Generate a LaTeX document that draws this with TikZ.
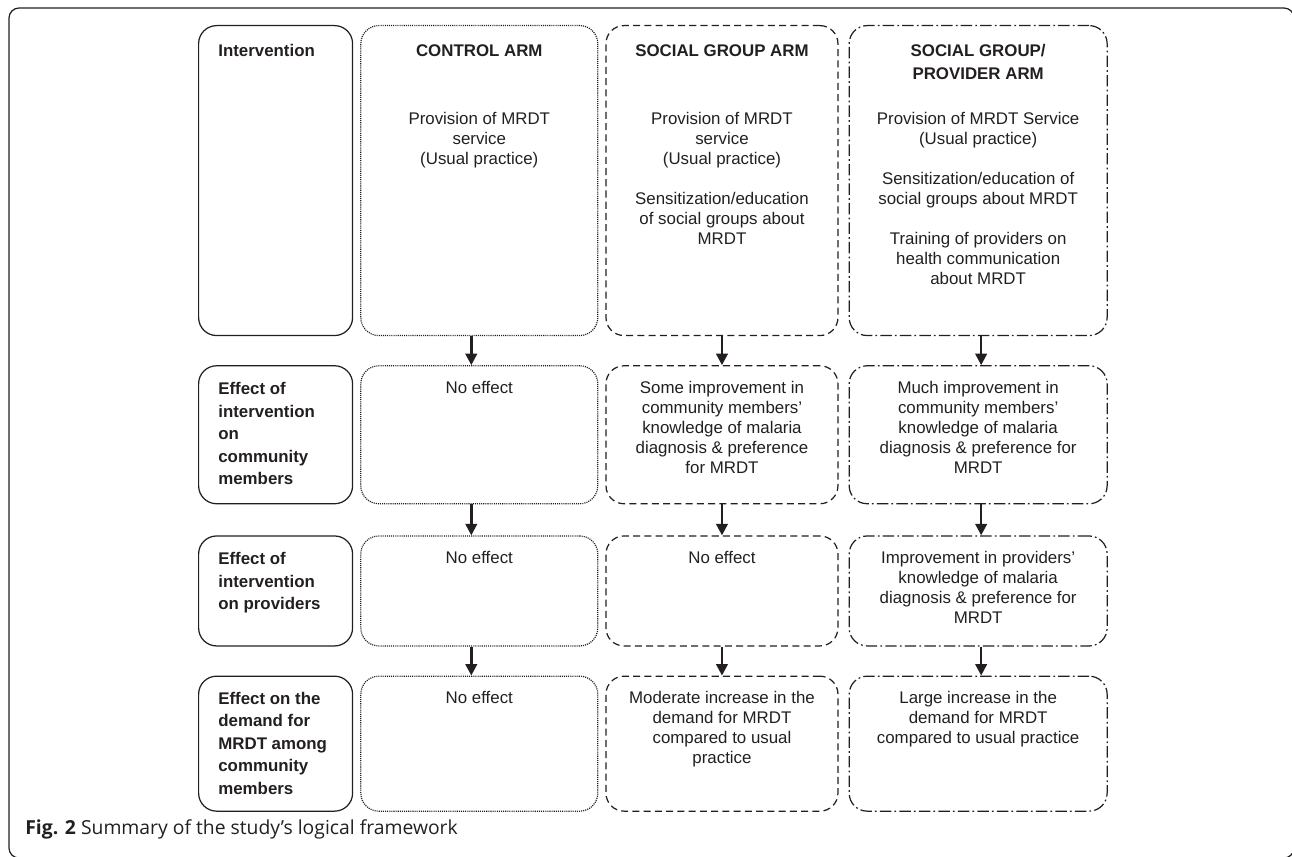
\documentclass[tikz,border=0pt]{standalone}
\usepackage{fontspec}
\setmainfont{Liberation Sans}
\newfontfamily\lfcapfont{Open Sans}
\usepackage{tikz}
\usetikzlibrary{positioning, arrows.meta}
\definecolor{lf-ink}{RGB}{35,31,32}
\newcommand\lfbody{\fontsize{9.6pt}{11.4pt}\selectfont}
\newcommand\lfhead{\fontsize{9.6pt}{12.8pt}\selectfont\bfseries}
\tikzset{
  lf@box/.style={
    rectangle, draw=lf-ink, rounded corners=0.36cm, line width=0.7pt,
    inner sep=0pt
  },
  lf@head/.style={lf@box, minimum width=3.08cm},
  lf@ctl/.style={lf@box, minimum width=4.74cm, dash pattern=on 0.6pt off 0.6pt},
  lf@soc/.style={lf@box, minimum width=4.64cm, dash pattern=on 4pt off 2.4pt},
  lf@prov/.style={lf@box, minimum width=5.16cm,
    dash pattern=on 6.5pt off 1.8pt on 1pt off 1.8pt},
  lf@txt/.style={inner sep=0pt, align=center, font=\lfbody, text=lf-ink},
  lf@ttl/.style={lf@txt, font=\lfhead},
  lf@lbl/.style={inner sep=0pt, align=left, font=\lfhead, text=lf-ink},
  lf@arr/.style={-{Triangle[width=6.5pt,length=6.5pt]}, line width=1.4pt, lf-ink},
  lf@cap/.style={inner sep=0pt, anchor=base west,
    font=\lfcapfont\fontsize{11pt}{13pt}\selectfont, text=lf-ink},
}

\begin{document}
\begin{tikzpicture}[x=0.02cm, y=0.02cm]
  \useasboundingbox (0,0) rectangle (1292,856);
  \draw[lf-ink, line width=0.7pt, rounded corners=0.2cm] (9,-2) rectangle (1294,848);
  % boxes
  \node[lf@head, minimum height=6.2cm, anchor=north west] (h1) at (198,831) {};
  \node[lf@ctl,  minimum height=6.2cm, right=0.14cm of h1] (c1) {};
  \node[lf@soc,  minimum height=6.2cm, right=0.14cm of c1] (s1) {};
  \node[lf@prov, minimum height=6.2cm, right=0.2cm of s1] (p1) {};
  \node[lf@head, minimum height=2.76cm, below=0.58cm of h1] (h2) {};
  \node[lf@ctl,  minimum height=2.76cm, below=0.58cm of c1] (c2) {};
  \node[lf@soc,  minimum height=2.76cm, below=0.58cm of s1] (s2) {};
  \node[lf@prov, minimum height=2.76cm, below=0.58cm of p1] (p2) {};
  \node[lf@head, minimum height=2.2cm, below=0.62cm of h2] (h3) {};
  \node[lf@ctl,  minimum height=2.2cm, below=0.62cm of c2] (c3) {};
  \node[lf@soc,  minimum height=2.2cm, below=0.62cm of s2] (s3) {};
  \node[lf@prov, minimum height=2.2cm, below=0.62cm of p2] (p3) {};
  \node[lf@head, minimum height=2.7cm, below=0.58cm of h3] (h4) {};
  \node[lf@ctl,  minimum height=2.7cm, below=0.58cm of c3] (c4) {};
  \node[lf@soc,  minimum height=2.7cm, below=0.58cm of s3] (s4) {};
  \node[lf@prov, minimum height=2.7cm, below=0.58cm of p3] (p4) {};
  % texts
  \node[lf@lbl, below right=0.37cm and 0.4cm of h1.north west] (h1t) {Intervention};
  \node[lf@lbl, below right=0.34cm and 0.4cm of h2.north west] (h2t) {Effect of\\intervention\\on\\community\\members};
  \node[lf@lbl, below right=0.34cm and 0.4cm of h3.north west] (h3t) {Effect of\\intervention\\on providers};
  \node[lf@lbl, below right=0.32cm and 0.4cm of h4.north west] (h4t) {Effect on the\\demand for\\MRDT among\\community\\members};
  \node[lf@ttl, below=0.38cm of c1.north] (c1h) {CONTROL ARM};
  \node[lf@ttl, below=0.38cm of s1.north] (s1h) {SOCIAL GROUP ARM};
  \node[lf@ttl, below=0.38cm of p1.north] (p1h) {SOCIAL GROUP/\\PROVIDER ARM};
  \node[lf@txt, below=1.73cm of c1.north] (c1t) {Provision of MRDT\\service\\(Usual practice)};
  \node[lf@txt, below=1.73cm of s1.north] (s1t) {Provision of MRDT\\service\\(Usual practice)\\[0.4cm]Sensitization/education\\of social groups about\\MRDT};
  \node[lf@txt, below=1.73cm of p1.north] (p1t) {Provision of MRDT Service\\(Usual practice)\\[0.4cm]Sensitization/education of\\social groups about MRDT\\[0.4cm]Training of providers on\\health communication\\about MRDT};
  \node[lf@txt, below=0.31cm of c2.north] (c2t) {No effect};
  \node[lf@txt, below=0.31cm of s2.north] (s2t) {Some improvement in\\community members’\\knowledge of malaria\\diagnosis \& preference\\for MRDT};
  \node[lf@txt, below=0.31cm of p2.north] (p2t) {Much improvement in\\community members’\\knowledge of malaria\\diagnosis \& preference for\\MRDT};
  \node[lf@txt, below=0.31cm of c3.north] (c3t) {No effect};
  \node[lf@txt, below=0.31cm of s3.north] (s3t) {No effect};
  \node[lf@txt, below=0.31cm of p3.north] (p3t) {Improvement in providers’\\knowledge of malaria\\diagnosis \& preference for\\MRDT};
  \node[lf@txt, below=0.31cm of c4.north] (c4t) {No effect};
  \node[lf@txt, below=0.31cm of s4.north] (s4t) {Moderate increase in the\\demand for MRDT\\compared to usual\\practice};
  \node[lf@txt, below=0.31cm of p4.north] (p4t) {Large increase in the\\demand for MRDT\\compared to usual practice};
  % arrows
  \draw[lf@arr] ([xshift=-0.16cm]c1.south) -- ([xshift=-0.16cm]c2.north);
  \draw[lf@arr] ([xshift=-0.16cm]c2.south) -- ([xshift=-0.16cm]c3.north);
  \draw[lf@arr] ([xshift=-0.16cm]c3.south) -- ([xshift=-0.16cm]c4.north);
  \draw[lf@arr] (s1) -- (s2);
  \draw[lf@arr] (s2) -- (s3);
  \draw[lf@arr] (s3) -- (s4);
  \draw[lf@arr] ([xshift=0.06cm]p1.south) -- ([xshift=0.06cm]p2.north);
  \draw[lf@arr] ([xshift=0.06cm]p2.south) -- ([xshift=0.06cm]p3.north);
  \draw[lf@arr] ([xshift=0.06cm]p3.south) -- ([xshift=0.06cm]p4.north);
  \node[lf@cap] (cap) at (25,22) {\textbf{Fig. 2} Summary of the study’s logical framework};
\end{tikzpicture}
\end{document}
